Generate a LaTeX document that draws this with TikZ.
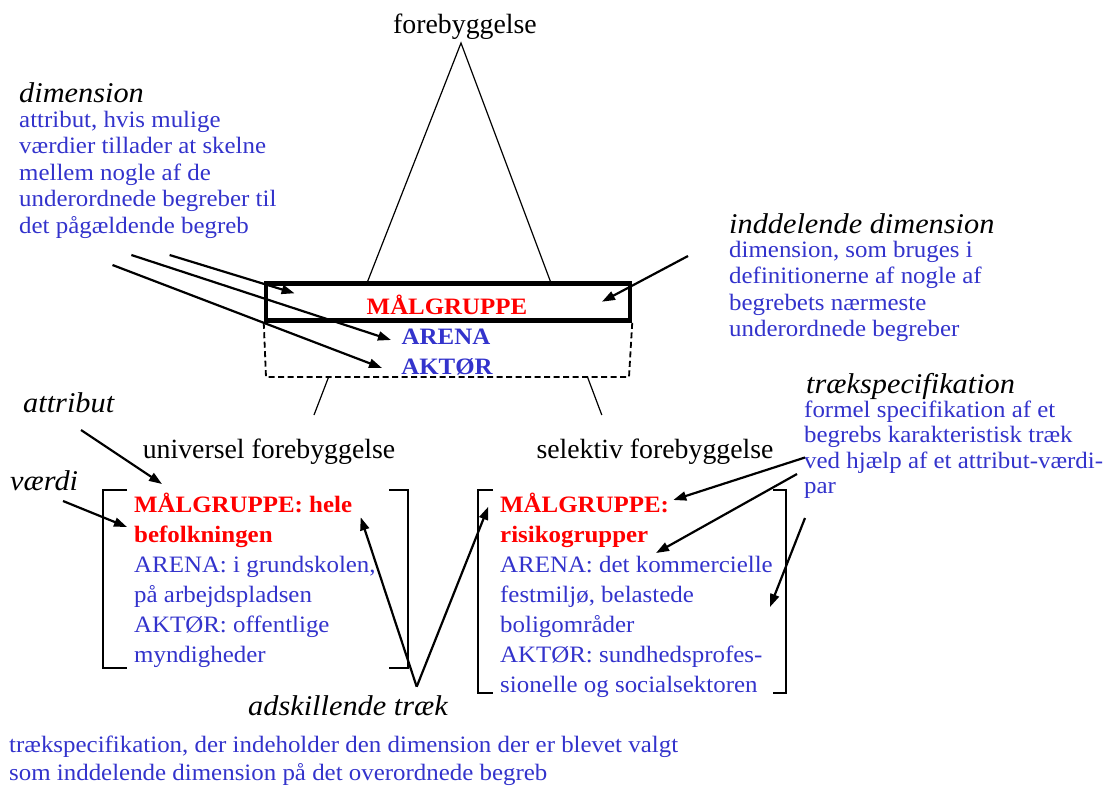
\documentclass[tikz,border=0pt]{standalone}
\usepackage{fontspec}
\setmainfont{Liberation Serif}
\newfontfamily\widefont[FakeStretch=1.06]{Liberation Serif}
\usetikzlibrary{arrows.meta}
\definecolor{defblue}{RGB}{51,51,204}
\definecolor{valred}{RGB}{255,0,0}

\tikzset{
  lbl/.style={font=\fontsize{27.8}{30}\selectfont, inner sep=0, anchor=base},
  term/.style={font=\widefont\itshape\fontsize{28.6}{30}\selectfont, inner sep=0, anchor=base west},
  defn/.style={font=\widefont\fontsize{23.5}{25}\selectfont, text=defblue, inner sep=0, anchor=base west},
  val/.style={font=\widefont\bfseries\fontsize{23.5}{25}\selectfont, text=valred, inner sep=0, anchor=base west},
  dimlbl/.style={font=\widefont\bfseries\fontsize{23.5}{25}\selectfont, inner sep=0, anchor=base},
  ptr/.style={-{Triangle[length=13pt,width=9pt]}, line width=2.2pt},
  thinline/.style={line width=1.2pt},
  brk/.style={line width=2pt},
}

\begin{document}
\begin{tikzpicture}[x=1pt,y=-1pt]
\fill[white] (0,0) rectangle (1104,787);
\useasboundingbox (0,0) rectangle (1104,787);

% ---- concept tree ----
\node[lbl] (top) at (465,34) {forebyggelse};
\coordinate (apex) at (461,43);
\coordinate (footL) at (367,283);
\coordinate (footR) at (551,283);
\draw[thinline] (footL) -- (apex) -- (footR);

% dimension box (chosen dimension) and the other dimensions
\node[draw, line width=4.5pt, minimum width=364pt, minimum height=37pt, inner sep=0] (dimbox) at (448,302) {};
\coordinate (dashSW) at (266,377);
\coordinate (dashSE) at (629,377);
\draw[line width=1.8pt, dash pattern=on 6pt off 3.5pt] (dimbox.south west) -- (dashSW) -- (dashSE) -- (dimbox.south east);

\node[dimlbl, text=valred] (dmal) at (447,314) {MÅLGRUPPE};
\node[dimlbl, text=defblue] (dare) at (446,344) {ARENA};
\node[dimlbl, text=defblue] (dakt) at (447,374) {AKTØR};

% lower branches
\coordinate (brL1) at (328.6,377);
\coordinate (brL2) at (314,415);
\coordinate (brR1) at (587.5,377);
\coordinate (brR2) at (601.8,415);
\draw[thinline] (brL1) -- (brL2);
\draw[thinline] (brR1) -- (brR2);

\node[lbl] (univ) at (269,458) {universel forebyggelse};
\node[lbl] (sel) at (655,458) {selektiv forebyggelse};

% ---- left feature specification ----
\draw[brk] (127,490) -- (103,490) -- (103,668) -- (127,668);
\draw[brk] (389,490) -- (408,490) -- (408,668) -- (389,668);
\node[val] (lv1) at (134,512) {MÅLGRUPPE: hele};
\node[val] (lv2) at (134,542) {befolkningen};
\foreach \t [count=\i from 0] in {{ARENA: i grundskolen,},{på arbejdspladsen},{AKTØR: offentlige},{myndigheder}}
  \node[defn] (lt\i) at (134,572+30*\i) {\t};

% ---- right feature specification ----
\draw[brk] (493,490) -- (478,490) -- (478,693) -- (493,693);
\draw[brk] (773,490) -- (786,490) -- (786,693) -- (773,693);
\node[val] (rv1) at (500,512) {MÅLGRUPPE:};
\node[val] (rv2) at (500,542) {risikogrupper};
\foreach \t [count=\i from 0] in {{ARENA: det kommercielle},{festmiljø, belastede},{boligområder},{AKTØR: sundhedsprofes-},{sionelle og socialsektoren}}
  \node[defn] (rt\i) at (500,572+30*\i) {\t};

% ---- term: dimension ----
\node[term] (dimterm) at (19,102) {dimension};
\foreach \t [count=\i from 0] in {{attribut, hvis mulige},{værdier tillader at skelne},{mellem nogle af de},{underordnede begreber til},{det pågældende begreb}}
  \node[defn] (dimdef\i) at (19,127+26.5*\i) {\t};

% ---- term: inddelende dimension ----
\node[term] (indterm) at (729,233) {inddelende dimension};
\foreach \t [count=\i from 0] in {{dimension, som bruges i},{definitionerne af nogle af},{begrebets nærmeste},{underordnede begreber}}
  \node[defn] (inddef\i) at (729,257+26.5*\i) {\t};

% ---- term: trækspecifikation ----
\node[term] (trkterm) at (806,393) {trækspecifikation};
\foreach \t [count=\i from 0] in {{formel specifikation af et},{begrebs karakteristisk træk},{ved hjælp af et attribut-værdi-},{par}}
  \node[defn] (trkdef\i) at (804,417+25.5*\i) {\t};

% ---- terms: attribut, værdi ----
\node[term] (attrterm) at (23,412) {attribut};
\node[term] (valterm) at (10,490) {værdi};

% ---- term: adskillende træk ----
\node[term] (adsterm) at (248,715) {adskillende træk};
\node[defn] (adsdef0) at (9,752) {trækspecifikation, der indeholder den dimension der er blevet valgt};
\node[defn] (adsdef1) at (9,780) {som inddelende dimension på det overordnede begreb};

% ---- pointers ----
\coordinate (pA0) at (169.6,255);   \coordinate (pA1) at (294.6,293.3);
\coordinate (pB0) at (131.4,255);   \coordinate (pB1) at (391,340);
\coordinate (pC0) at (112.5,265);   \coordinate (pC1) at (382,368);
\draw[ptr] (pA0) -- (pA1);
\draw[ptr] (pB0) -- (pB1);
\draw[ptr] (pC0) -- (pC1);

\coordinate (pD0) at (688,256);     \coordinate (pD1) at (602,301.7);
\draw[ptr] (pD0) -- (pD1);

\coordinate (pE0) at (81,430);      \coordinate (pE1) at (162,484);
\coordinate (pF0) at (63,501);      \coordinate (pF1) at (127,527);
\draw[ptr] (pE0) -- (pE1);
\draw[ptr] (pF0) -- (pF1);

\coordinate (vtip) at (416.7,686.7);
\coordinate (pG1) at (360.7,517.3);
\coordinate (pH1) at (488.3,506.7);
\draw[ptr] (vtip) -- (pG1);
\draw[ptr] (vtip) -- (pH1);

\coordinate (pI0) at (805,457.5);   \coordinate (pI1) at (673.3,500);
\coordinate (pJ0) at (797,474);     \coordinate (pJ1) at (656,553);
\coordinate (pK0) at (805,518);     \coordinate (pK1) at (770,607);
\draw[ptr] (pI0) -- (pI1);
\draw[ptr] (pJ0) -- (pJ1);
\draw[ptr] (pK0) -- (pK1);
\end{tikzpicture}
\end{document}
